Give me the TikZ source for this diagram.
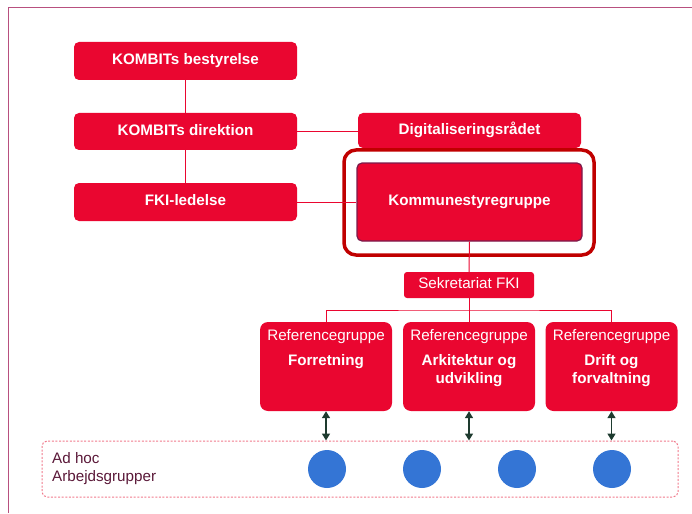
\documentclass[tikz,border=0pt]{standalone}
\usepackage{fontspec}
\setmainfont{Liberation Sans}
\usetikzlibrary{arrows.meta}
\definecolor{kred}{HTML}{EA0630}
\definecolor{kdark}{HTML}{C00000}
\definecolor{kpurple}{HTML}{7B1B4B}
\definecolor{kframe}{HTML}{B8507F}
\definecolor{kgreen}{HTML}{1E3B2F}
\definecolor{kpink}{HTML}{F07A8C}
\definecolor{ktext}{HTML}{5A1838}
\definecolor{kblue}{HTML}{3475D5}
\tikzset{
  redbox/.style={fill=kred, draw=none, rounded corners=5pt, text=white,
    font=\fontsize{15.2}{18}\selectfont\bfseries, inner sep=0pt,
    text height=0.716em, text depth=0pt},
  refbox/.style={fill=kred, draw=none, rounded corners=8pt, minimum width=132pt,
    minimum height=89pt, inner sep=0pt},
  reftitle/.style={text=white, font=\fontsize{15.2}{18}\selectfont, inner sep=0pt},
  refname/.style={text=white, font=\fontsize{15.2}{18}\selectfont\bfseries, align=center, inner sep=0pt},
  conn/.style={draw=kred, line width=1pt},
  dblarrow/.style={draw=kgreen, line width=1.6pt, {Triangle[length=7pt,width=8pt]}-{Triangle[length=7pt,width=8pt]}},
  dot/.style={circle, fill=kblue, minimum size=38pt, inner sep=0pt, draw=none}
}
\begin{document}
\begin{tikzpicture}[x=1pt,y=-1pt]
\useasboundingbox (0,0) rectangle (692,513);
% frame
\draw[kframe, line width=1pt] (8,513) -- (8,8) -- (692,8);
% left column
\node[redbox, minimum width=223pt, minimum height=38pt] (best) at (185.5,61) {KOMBITs bestyrelse};
\node[redbox, minimum width=223pt, minimum height=37pt] (dir) at (185.5,131.5) {KOMBITs direktion};
\node[redbox, minimum width=223pt, minimum height=38pt] (fki) at (185.5,202) {FKI-ledelse};
% right column
\node[redbox, minimum width=223pt, minimum height=35pt] (digi) at (469.5,130.5) {Digitaliseringsrådet};
\node[draw=kdark, line width=3.5pt, rounded corners=12pt, minimum width=250pt, minimum height=105pt, inner sep=0pt] (hl) at (469,202.5) {};
\node[redbox, draw=kpurple, line width=1.2pt, minimum width=225pt, minimum height=78pt] (kom) at (469.5,202) {Kommunestyregruppe};
\node[redbox, rounded corners=3pt, minimum width=130pt, minimum height=26pt, font=\fontsize{15.2}{18}\selectfont] (sekr) at (469,285) {Sekretariat FKI};
% reference groups
\node[refbox] (ref1) at (326,366.5) {};
\node[refbox] (ref2) at (469,366.5) {};
\node[refbox] (ref3) at (611.5,366.5) {};
\foreach \r in {ref1,ref2,ref3}{
  \node[reftitle] at ([yshift=-15pt]\r.north) {Referencegruppe};
}
\node[refname] at ([yshift=-40pt]ref1.north) {Forretning};
\node[refname] at ([yshift=-49pt]ref2.north) {Arkitektur og\\udvikling};
\node[refname] at ([yshift=-49pt]ref3.north) {Drift og\\forvaltning};
% connectors
\draw[conn] (best.south) -- (dir.north);
\draw[conn] (dir.south) -- (fki.north);
\draw[conn] (dir.east) -- (dir.east -| digi.west);
\draw[conn] (fki.east) -- (kom.west);
\draw[conn] (kom.south) -- (sekr.north);
\coordinate (bus) at (469,310);
\draw[conn] (sekr.south) -- (ref2.north);
\draw[conn] (ref1.north) |- (bus) -| (ref3.north);
% ad hoc box
\node[draw=kpink, line width=1pt, dash pattern=on 2pt off 1.6pt, rounded corners=5pt, minimum width=636pt, minimum height=56pt, inner sep=0pt] (adhoc) at (360,469) {};
\node[anchor=west, align=left, text=ktext, font=\fontsize{15.2}{18}\selectfont, inner sep=0pt] (adtxt) at (52,469) {Ad hoc\\Arbejdsgrupper};
% arrows
\draw[dblarrow] (ref1.south) -- (ref1.south |- adhoc.north);
\draw[dblarrow] (ref2.south) -- (ref2.south |- adhoc.north);
\draw[dblarrow] (ref3.south) -- (ref3.south |- adhoc.north);
% circles
\node[dot] (c1) at (327,469) {};
\node[dot] (c2) at (422,469) {};
\node[dot] (c3) at (517,469) {};
\node[dot] (c4) at (612,469) {};
\end{tikzpicture}
\end{document}
